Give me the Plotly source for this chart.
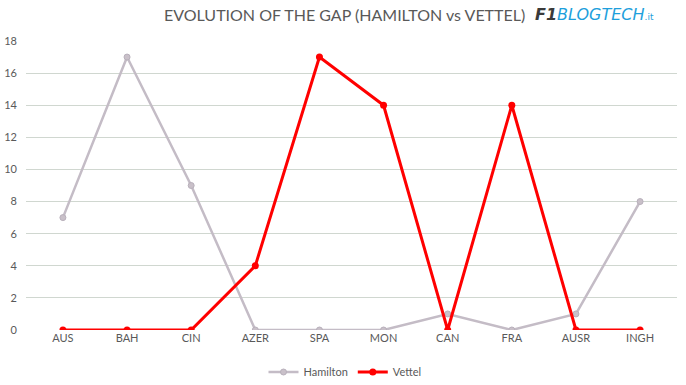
import plotly.graph_objects as go

races = ["AUS", "BAH", "CIN", "AZER", "SPA", "MON", "CAN", "FRA", "AUSR", "INGH"]
hamilton = [7, 17, 9, 0, 0, 0, 1, 0, 1, 8]
vettel = [0, 0, 0, 4, 17, 14, 0, 14, 0, 0]
y_ticks = [0, 2, 4, 6, 8, 10, 12, 14, 16, 18]

W, H = 686, 385
L, R, T, B = 26, 9, 41, 55
pw = W - L - R
ph = H - T - B

def px(x):
    return (x - L) / pw

def py(y):
    return 1 - (y - T) / ph

fig = go.Figure()
fig.add_trace(go.Scatter(
    x=races, y=hamilton, name="Hamilton", mode="lines+markers",
    line=dict(color="#c4bcc6", width=2.5),
    marker=dict(size=6, color="#c9c0c9", line=dict(color="#b8b0bb", width=1)),
))
fig.add_trace(go.Scatter(
    x=races, y=vettel, name="Vettel", mode="lines+markers",
    line=dict(color="#ff0000", width=3),
    marker=dict(size=7, color="#ff0000"),
))

fig.update_layout(
    width=W, height=H,
    margin=dict(l=L, r=R, t=T, b=B, autoexpand=False),
    paper_bgcolor="white", plot_bgcolor="white",
    font=dict(family="Lato, Open Sans, sans-serif", size=11, color="#595959"),
    xaxis=dict(showgrid=False, showline=False, zeroline=False, ticks="", automargin=False,
               tickfont=dict(size=11, color="#595959")),
    yaxis=dict(range=[0, 18], tickvals=y_ticks, showgrid=True, gridcolor="#d0d7d0",
               gridwidth=1, zeroline=False, showline=False, ticks="", automargin=False,
               ticklabelstandoff=8, tickfont=dict(size=11, color="#595959")),
    legend=dict(orientation="h", x=px(345), xanchor="center", y=py(372), yanchor="middle",
                font=dict(size=11, color="#595959")),
    showlegend=True,
)

fig.add_annotation(
    text="EVOLUTION OF THE GAP (HAMILTON vs VETTEL)",
    xref="paper", yref="paper", x=px(527), y=py(15),
    xanchor="right", yanchor="middle", showarrow=False,
    font=dict(family="Lato, sans-serif", size=16, color="#595959"),
)
fig.add_annotation(
    text="<b><i>F1</i></b><i><span style='color:#1e9fdc'>BLOGTECH</span></i><span style='color:#1e9fdc;font-size:9px'>.it</span>",
    xref="paper", yref="paper", x=px(533), y=py(15),
    xanchor="left", yanchor="middle", showarrow=False,
    font=dict(family="DejaVu Sans, sans-serif", size=16, color="#3a3a3a"),
)

fig.write_html("out.html", config={"displayModeBar": False},
               post_script="document.body.style.margin='0';document.body.style.overflow='hidden';")
